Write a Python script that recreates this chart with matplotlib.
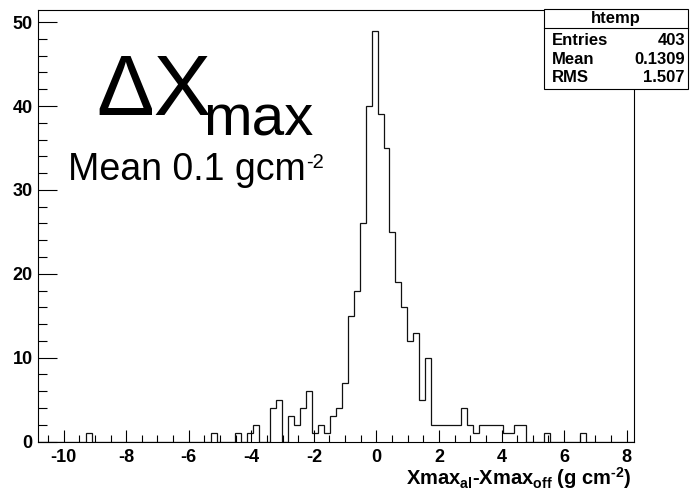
import numpy as np
import matplotlib
matplotlib.use("Agg")
import matplotlib.pyplot as plt
from matplotlib.patches import Rectangle
from matplotlib.lines import Line2D
from matplotlib.ticker import MultipleLocator

plt.rcParams['font.family'] = ['Liberation Sans', 'DejaVu Sans']
plt.rcParams['mathtext.fontset'] = 'custom'
plt.rcParams['mathtext.rm'] = 'Liberation Sans'
plt.rcParams['mathtext.it'] = 'Liberation Sans:italic'
plt.rcParams['mathtext.bf'] = 'Liberation Sans:bold'
plt.rcParams['axes.unicode_minus'] = False

# histogram htemp: 100 bins between x_lo and x_hi
x_lo, x_hi, n_bins = -10.81, 8.22, 100
counts = [0, 0, 0, 0, 0, 0, 0, 0, 1, 0,
          0, 0, 0, 0, 0, 0, 0, 0, 0, 0,
          0, 0, 0, 0, 0, 0, 0, 0, 0, 1,
          0, 0, 0, 1, 0, 1, 2, 0, 0, 4,
          5, 0, 3, 2, 4, 6, 1, 2, 1, 3,
          4, 7, 15, 18, 26, 40, 49, 39, 35, 25,
          19, 16, 12, 13, 5, 10, 2, 2, 2, 2,
          2, 4, 2, 1, 2, 2, 2, 2, 1, 1,
          2, 2, 0, 0, 0, 1, 0, 0, 0, 0,
          0, 1, 0, 0, 0, 0, 0, 0, 0, 0]

stat_names = ["Entries", "Mean", "RMS"]
stat_values = ["403", "0.1309", "1.507"]
hist_name = "htemp"

W, H = 690, 497
fig = plt.figure(figsize=(W / 100, H / 100), dpi=100)

def fx(px):
    return px / W

def fy(py):
    return 1 - py / H

ax = fig.add_axes([fx(38.3), fy(441.6), fx(633.5) - fx(38.3), fy(10) - fy(441.6)])

edges = np.linspace(x_lo, x_hi, n_bins + 1)
ax.stairs(counts, edges, color='#111111', lw=0.9)

ax.set_xlim(x_lo, x_hi)
ax.set_ylim(0, 1.05 * max(counts))

for s in ax.spines.values():
    s.set_linewidth(0.8)
    s.set_color('black')

ax.xaxis.set_major_locator(MultipleLocator(2))
ax.xaxis.set_minor_locator(MultipleLocator(0.5))
ax.yaxis.set_major_locator(MultipleLocator(10))
ax.yaxis.set_minor_locator(MultipleLocator(2))
ax.tick_params(axis='both', which='both', direction='in', top=False, right=False,
               width=0.8, color='black')
ax.tick_params(axis='x', which='major', length=9, pad=5)
ax.tick_params(axis='x', which='minor', length=4.8)
ax.tick_params(axis='y', which='major', length=13.7, pad=4)
ax.tick_params(axis='y', which='minor', length=6.8)
for lab in ax.get_xticklabels() + ax.get_yticklabels():
    lab.set_fontsize(13)
    lab.set_fontweight('bold')

ax.set_xlabel('Xmax$_{\\mathbf{al}}$-Xmax$_{\\mathbf{off}}$ (g cm$^{\\mathbf{\u20102}}$)',
              loc='right', fontsize=14.5, fontweight='bold')
ax.xaxis.label.set_va('baseline')
ax.xaxis.set_label_coords(0.9975, -0.1006)

# big annotation
fig.text(fx(96), fy(115), "ΔX", fontsize=62, ha='left', va='baseline')
fig.text(fx(203), fy(135), "max", fontsize=42, ha='left', va='baseline')
fig.text(fx(68), fy(180), "Mean 0.1 gcm", fontsize=27, ha='left', va='baseline')
fig.text(fx(306), fy(168), "-2", fontsize=14.5, ha='left', va='baseline')

# stats box
bx0, bx1, by0, by1, hy = 544, 688, 8.7, 89.3, 28
fig.add_artist(Rectangle((fx(bx0), fy(by1)), fx(bx1) - fx(bx0), fy(by0) - fy(by1),
                         transform=fig.transFigure, facecolor='white',
                         edgecolor='black', lw=0.8))
fig.add_artist(Line2D([fx(bx0), fx(bx1)], [fy(hy), fy(hy)], transform=fig.transFigure,
                      color='black', lw=0.8))
fig.text(fx((bx0 + bx1) / 2), fy(23), hist_name, fontsize=12, fontweight='bold',
         ha='center', va='baseline')
for i, (nm, val) in enumerate(zip(stat_names, stat_values)):
    yb = 45 + i * 18.7
    fig.text(fx(551.5), fy(yb), nm, fontsize=12, fontweight='bold', ha='left', va='baseline')
    fig.text(fx(685), fy(yb), val, fontsize=12, fontweight='bold', ha='right', va='baseline')

fig.savefig("out.png", dpi=100)
